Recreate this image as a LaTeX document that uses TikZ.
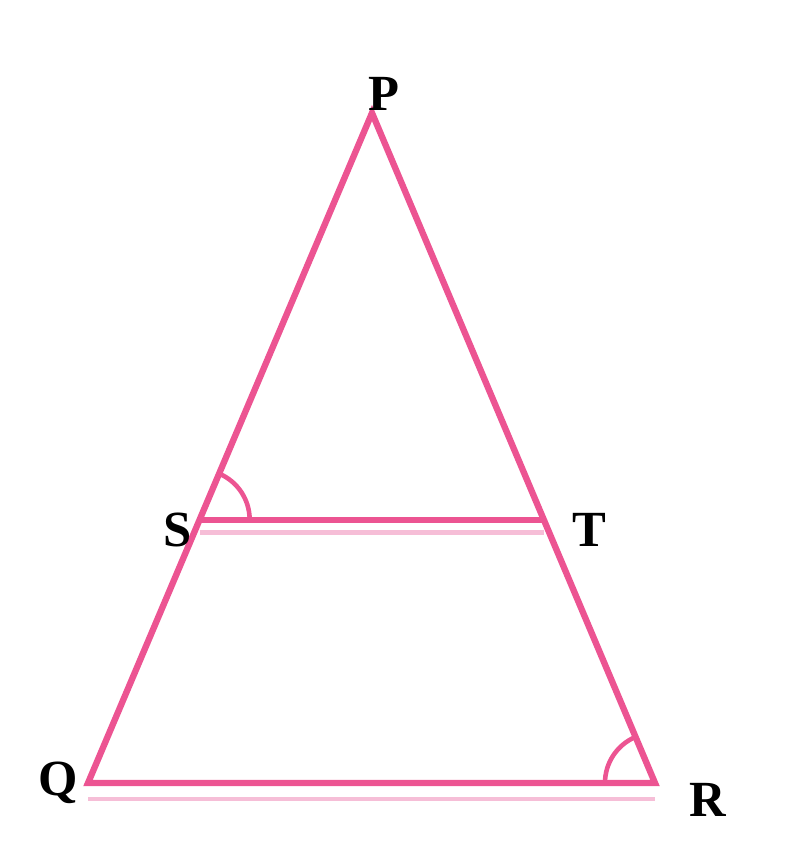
\documentclass[tikz,border=0pt]{standalone}
\usepackage{fontspec}
\setmainfont{Liberation Serif}
\usepackage{tikz}
\usetikzlibrary{angles, calc}
\definecolor{trirose}{RGB}{236,84,146}
\definecolor{trirosefaint}{RGB}{246,190,215}

\begin{document}
\begin{tikzpicture}[
			x=0.01cm, y=-0.01cm,
			side/.style={draw=trirose, line width=1.8pt},
			ghost/.style={draw=trirosefaint, line width=1.3pt},
			vlabel/.style={font=\Large\bfseries, text=black},
			anglearc/.style={draw=trirose, line width=1.3pt, angle radius=0.5cm}
			]
			\useasboundingbox (0,0) rectangle (803,864);
			% Vertici del triangolo
			\coordinate (P) at (372,113);
			\coordinate (Q) at (88,783);
			\coordinate (R) at (655,783);
			% Punti sui lati
			\coordinate (S) at ($(P)!0.607!(Q)$);
			\coordinate (T) at ($(P)!0.607!(R)$);
			% Lati
			\draw[ghost] ($(S)+(0,13)$) -- ($(T)+(0,13)$);
			\draw[ghost] ($(Q)+(0,16)$) -- ($(R)+(0,16)$);
			\draw[side] (P) -- (Q) -- (R) -- cycle;
			\draw[side] (S) -- (T);
			% Angoli
			\pic[anglearc] {angle = T--S--P};
			\pic[anglearc] {angle = P--R--Q};
			% Etichette
			\node[vlabel] (lP) at (384,94) {P};
			\node[vlabel] (lQ) at (58,783) {Q};
			\node[vlabel] (lR) at (708,800) {R};
			\node[vlabel] (lS) at (178,530) {S};
			\node[vlabel] (lT) at (589,530) {T};
		\end{tikzpicture}
\end{document}
